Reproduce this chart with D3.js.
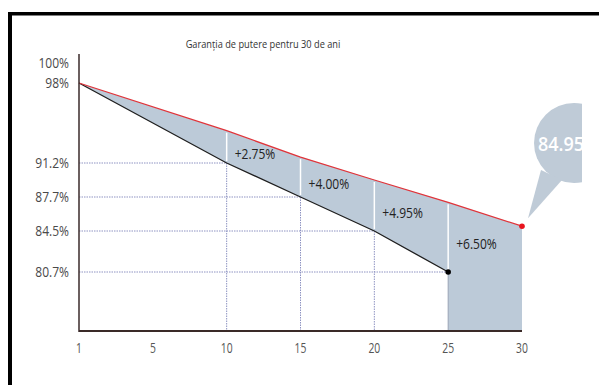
<!DOCTYPE html>
<html>
<head>
<meta charset="utf-8">
<script src="https://cdn.jsdelivr.net/npm/d3@7/dist/d3.min.js"></script>
<style>
  html, body { margin: 0; padding: 0; background: #fff; }
  svg { display: block; }
  text { font-family: "Open Sans", "Noto Sans", sans-serif; }
</style>
</head>
<body>
<svg id="chart" width="599" height="385"></svg>
<script>
// Year ticks along the bottom axis
const yearTicks = [1, 5, 10, 15, 20, 25, 30];
// Percentage ticks on the left axis
const percentTicks = [100, 98, 91.2, 87.7, 84.5, 80.7];
// Standard degradation curve (black)
const standardYears = [1, 10, 15, 20, 25];
const standardValues = [98, 91.2, 87.7, 84.5, 80.7];
// Linear power warranty (red)
const warrantyYears = [1, 10, 15, 20, 25, 30];
const warrantyValues = [98, 93.95, 91.7, 89.45, 87.2, 84.95];
// Extra output guaranteed above the standard curve
const gainYears = [10, 15, 20, 25];
const gainValues = [2.75, 4.00, 4.95, 6.50];
const title = "Garanția de putere pentru 30 de ani";

const svg = d3.select("#chart");

// narrow lettering: place each label, then squeeze it horizontally
function label(parent, px, py, str, opts) {
  const o = Object.assign({ size: 12, squeeze: 0.85, anchor: "start", fill: "#444", weight: "normal" }, opts);
  return parent.append("text")
    .attr("transform", `translate(${px},${py}) scale(${o.squeeze},1)`)
    .attr("dy", "0.35em")
    .attr("text-anchor", o.anchor)
    .attr("font-size", o.size)
    .attr("font-weight", o.weight)
    .attr("fill", o.fill)
    .text(str);
}

// frame
svg.append("rect").attr("x", 8).attr("y", 12).attr("width", 591).attr("height", 3.5).attr("fill", "#000");
svg.append("rect").attr("x", 8).attr("y", 12).attr("width", 4).attr("height", 373).attr("fill", "#000");

const left = 79, right = 522, bottom = 331, axisTop = 54;

const x = d3.scalePoint().domain(yearTicks).range([left, right]);
// the percentage axis is drawn as an illustration, spacing set per tick
const y = d3.scaleLinear().domain(percentTicks).range([63, 83, 163, 197, 231, 272]);

const standard = standardYears.map((yr, i) => ({ yr, v: standardValues[i] }));
const warranty = warrantyYears.map((yr, i) => ({ yr, v: warrantyValues[i] }));

// shaded band between warranty and standard curve, full depth after year 25
const lastStd = standard[standard.length - 1];
const lastWar = warranty[warranty.length - 1];
const band = [
  ...warranty.map(d => [x(d.yr), y(d.v)]),
  [x(lastWar.yr), bottom],
  [x(lastStd.yr), bottom],
  ...standard.slice().reverse().map(d => [x(d.yr), y(d.v)])
];
svg.append("path")
  .attr("d", d3.line()(band) + "Z")
  .attr("fill", "#bccad8");

// dotted guides to the standard curve
const guideColor = "#8e93c2";
standard.slice(1).forEach(d => {
  svg.append("line")
    .attr("x1", left).attr("x2", x(d.yr))
    .attr("y1", y(d.v)).attr("y2", y(d.v))
    .attr("stroke", guideColor).attr("stroke-width", 1).attr("stroke-dasharray", "1.5,1");
  svg.append("line")
    .attr("x1", x(d.yr)).attr("x2", x(d.yr))
    .attr("y1", y(d.v)).attr("y2", bottom)
    .attr("stroke", d.yr === 25 ? "#9aa3b5" : guideColor).attr("stroke-width", 1)
    .attr("stroke-dasharray", d.yr === 25 ? null : "1.5,1");
});

// white markers showing the guaranteed extra
gainYears.forEach((yr, i) => {
  const base = standardValues[standardYears.indexOf(yr)];
  const top = base + gainValues[i];
  svg.append("line")
    .attr("x1", x(yr)).attr("x2", x(yr))
    .attr("y1", y(top) + 2).attr("y2", y(base) - 2)
    .attr("stroke", "#fff").attr("stroke-width", 1.5);
  label(svg, x(yr) + 8, (y(top) + y(base)) / 2 + 7,
    "+" + gainValues[i].toFixed(2) + "%", { size: 14.5, squeeze: 0.83, fill: "#222" });
});

// curves
const line = d3.line().x(d => x(d.yr)).y(d => y(d.v));
svg.append("path").attr("d", line(standard)).attr("fill", "none")
  .attr("stroke", "#1e1e1e").attr("stroke-width", 1.3);
svg.append("path").attr("d", line(warranty)).attr("fill", "none")
  .attr("stroke", "#e0343a").attr("stroke-width", 1.3);
svg.append("circle").attr("cx", x(lastStd.yr)).attr("cy", y(lastStd.v)).attr("r", 2.8).attr("fill", "#000");
svg.append("circle").attr("cx", x(lastWar.yr)).attr("cy", y(lastWar.v)).attr("r", 2.8).attr("fill", "#e8141e");

// axes
svg.append("line").attr("x1", left).attr("x2", left).attr("y1", axisTop).attr("y2", bottom + 1)
  .attr("stroke", "#3a2a2a").attr("stroke-width", 1.5);
svg.append("line").attr("x1", left).attr("x2", right).attr("y1", bottom).attr("y2", bottom)
  .attr("stroke", "#3a2a28").attr("stroke-width", 2);

const yAxisG = svg.append("g");
percentTicks.forEach(d => label(yAxisG, 69, y(d), d + "%", { size: 14, squeeze: 0.86, anchor: "end", fill: "#4a4a4a" }));

const xAxisG = svg.append("g");
yearTicks.forEach(d => label(xAxisG, x(d), 348, String(d), { size: 14, squeeze: 0.74, anchor: "middle", fill: "#555" }));

label(svg, 263, 44, title, { size: 11, squeeze: 0.84, anchor: "middle", fill: "#333" });

// callout bubble with the final warranty value
svg.append("defs").append("clipPath").attr("id", "bubbleClip")
  .append("rect").attr("x", 0).attr("y", 0).attr("width", 582).attr("height", 385);
const bubble = svg.append("g").attr("clip-path", "url(#bubbleClip)");
const bcx = 574, bcy = 143, br = 40;
bubble.append("circle").attr("cx", bcx).attr("cy", bcy).attr("r", br).attr("fill", "#bfcbd7");
bubble.append("path")
  .attr("d", d3.line()([[541, 170], [x(lastWar.yr) + 6, y(lastWar.v) - 8], [562, 180]]) + "Z")
  .attr("fill", "#bfcbd7");
label(bubble, 561, bcy + 1, lastWar.v.toFixed(2), { size: 20, squeeze: 0.9, anchor: "middle", fill: "#fff", weight: 600 });
</script>
</body>
</html>
